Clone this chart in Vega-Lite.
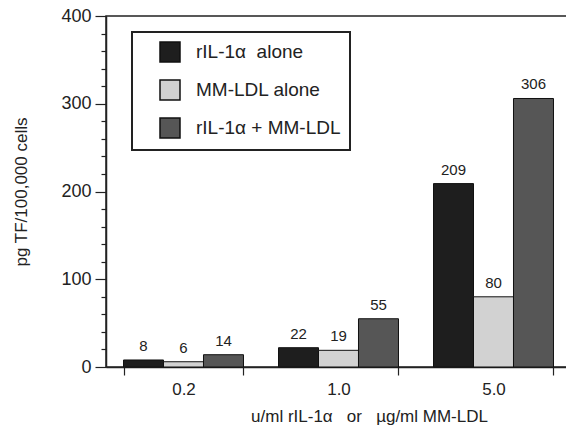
{
  "$schema": "https://vega.github.io/schema/vega-lite/v6.json",
  "width": 465,
  "height": 351,
  "padding": {"left": 12, "top": 7, "right": 0, "bottom": 5},
  "background": "white",
  "config": {
    "font": "Liberation Sans",
    "view": {"stroke": "#222", "strokeWidth": 1.5},
    "axis": {"domainColor": "#222", "tickColor": "#222", "labelColor": "#222", "titleColor": "#222", "labelFont": "Liberation Sans", "titleFont": "Liberation Sans", "titleFontWeight": "normal", "grid": false, "domainWidth": 1.5, "tickWidth": 1.2}
  },
  "data": {
    "values": [
      {"dose": "0.2", "series": "rIL-1α\u00a0\u00a0alone", "value": 8},
      {"dose": "0.2", "series": "MM-LDL alone", "value": 6},
      {"dose": "0.2", "series": "rIL-1α + MM-LDL", "value": 14},
      {"dose": "1.0", "series": "rIL-1α\u00a0\u00a0alone", "value": 22},
      {"dose": "1.0", "series": "MM-LDL alone", "value": 19},
      {"dose": "1.0", "series": "rIL-1α + MM-LDL", "value": 55},
      {"dose": "5.0", "series": "rIL-1α\u00a0\u00a0alone", "value": 209},
      {"dose": "5.0", "series": "MM-LDL alone", "value": 80},
      {"dose": "5.0", "series": "rIL-1α + MM-LDL", "value": 306}
    ]
  },
  "encoding": {
    "x": {
      "field": "dose", "type": "nominal", "sort": ["0.2", "1.0", "5.0"],
      "scale": {"paddingInner": 0.226, "paddingOuter": 0.113},
      "axis": {
        "title": "u/ml rIL-1α\u00a0\u00a0\u00a0or\u00a0\u00a0\u00a0µg/ml MM-LDL",
        "labelAngle": 0, "labelFontSize": 17, "titleFontSize": 17,
        "tickBand": "extent", "tickSize": 8, "labelPadding": 6, "titlePadding": 11,
        "titleX": 263
      }
    },
    "xOffset": {"field": "series", "type": "nominal", "sort": ["rIL-1α\u00a0\u00a0alone", "MM-LDL alone", "rIL-1α + MM-LDL"], "scale": {"paddingInner": 0, "paddingOuter": 0}},
    "y": {
      "field": "value", "type": "quantitative",
      "scale": {"domain": [0, 400], "nice": false},
      "axis": {
        "title": "pg TF/100,000 cells", "titleFontSize": 17, "labelFontSize": 18,
        "values": [0, 20, 40, 60, 80, 100, 120, 140, 160, 180, 200, 220, 240, 260, 280, 300, 320, 340, 360, 380, 400],
        "labelExpr": "datum.value % 100 === 0 ? datum.label : ''",
        "tickSize": {"condition": {"test": "datum.value % 100 === 0", "value": 11}, "value": 5},
        "labelPadding": 4, "titlePadding": 30
      }
    }
  },
  "layer": [
    {
      "mark": {"type": "bar", "stroke": "#111", "strokeWidth": 1, "opacity": 1},
      "encoding": {
        "color": {
          "field": "series", "type": "nominal",
          "scale": {"domain": ["rIL-1α\u00a0\u00a0alone", "MM-LDL alone", "rIL-1α + MM-LDL"], "range": ["#1e1e1e", "#d2d2d2", "#565656"]},
          "legend": {
            "title": null, "orient": "none", "legendX": 26, "legendY": 16,
            "symbolType": "square", "symbolSize": 400, "symbolStrokeColor": "#111", "symbolStrokeWidth": 1.5, "symbolOpacity": 1,
            "labelFontSize": 19, "labelColor": "#222", "labelFont": "Liberation Sans", "labelOffset": 15,
            "rowPadding": 12, "padding": 9, "symbolOffset": 18,
            "strokeColor": "#222", "fillColor": "white",
            "encode": {"legend": {"update": {"strokeWidth": {"value": 2}}}}
          }
        }
      }
    },
    {
      "mark": {"type": "text", "baseline": "bottom", "dy": -6, "fontSize": 15, "color": "#222", "font": "Liberation Sans"},
      "encoding": {"text": {"field": "value", "type": "quantitative"}}
    }
  ]
}
